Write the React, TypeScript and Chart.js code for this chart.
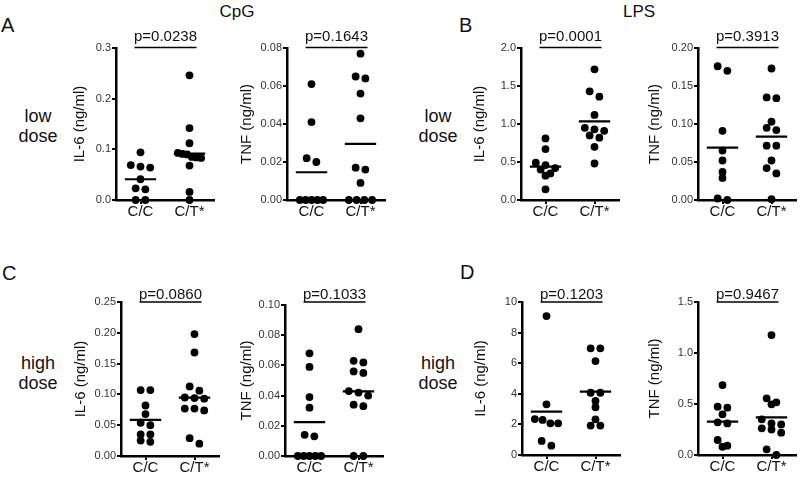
import React, { useEffect, useRef } from 'react';
import { Chart, registerables } from 'chart.js';

Chart.register(...registerables);

const FONT = '"Liberation Sans", Arial, Helvetica, sans-serif';
Chart.defaults.font.family = FONT;

// ---------------- data ----------------
const groups = ['C/C', 'C/T*'];

// A: CpG low dose
const cpgLowIL6CC = [0.094, 0.069, 0.066, 0.064, 0.041, 0.023, 0.021, 0, 0];
const cpgLowIL6CT = [0.246, 0.142, 0.112, 0.093, 0.091, 0.09, 0.085, 0.084, 0.083, 0.068, 0.016, 0];
const cpgLowIL6Mean = [0.041, 0.0915];
const cpgLowTNFCC = [0.061, 0.041, 0.022, 0.02, 0, 0, 0, 0, 0];
const cpgLowTNFCT = [0.077, 0.065, 0.064, 0.056, 0.043, 0.017, 0.016, 0.009, 0, 0, 0, 0];
const cpgLowTNFMean = [0.0146, 0.0295];

// B: LPS low dose
const lpsLowIL6CC = [0.81, 0.67, 0.49, 0.46, 0.42, 0.4, 0.35, 0.32, 0.14];
const lpsLowIL6CT = [1.72, 1.43, 1.36, 1.12, 0.95, 0.93, 0.91, 0.85, 0.82, 0.7, 0.48];
const lpsLowIL6Mean = [0.44, 1.035];
const lpsLowTNFCC = [0.176, 0.17, 0.091, 0.065, 0.052, 0.037, 0.029, 0.002, 0];
const lpsLowTNFCT = [0.173, 0.135, 0.134, 0.103, 0.095, 0.092, 0.0715, 0.0715, 0.052, 0.042, 0.035, 0.001];
const lpsLowTNFMean = [0.069, 0.0835];

// C: CpG high dose
const cpgHighIL6CC = [0.107, 0.107, 0.082, 0.068, 0.054, 0.05, 0.035, 0.035, 0.025, 0.023];
const cpgHighIL6CT = [0.198, 0.168, 0.113, 0.106, 0.095, 0.094, 0.093, 0.077, 0.077, 0.074, 0.029, 0.02];
const cpgHighIL6Mean = [0.0585, 0.0947];
const cpgHighTNFCC = [0.068, 0.059, 0.039, 0.032, 0.014, 0.013, 0, 0, 0, 0, 0];
const cpgHighTNFCT = [0.084, 0.063, 0.062, 0.056, 0.055, 0.043, 0.042, 0.04, 0.034, 0.033, 0, 0];
const cpgHighTNFMean = [0.0225, 0.0428];

// D: LPS high dose
const lpsHighIL6CC = [9.08, 3.31, 2.35, 2.29, 2.07, 2.07, 0.92, 0.61];
const lpsHighIL6CT = [6.97, 6.97, 6.14, 4.07, 4.07, 3.53, 3.12, 2.33, 1.92, 1.92];
const lpsHighIL6Mean = [2.83, 4.14];
const lpsHighTNFCC = [0.686, 0.474, 0.464, 0.399, 0.32, 0.31, 0.147, 0.091, 0.081];
const lpsHighTNFCT = [1.176, 0.556, 0.516, 0.497, 0.35, 0.31, 0.3, 0.262, 0.25, 0.219, 0.056, 0];
const lpsHighTNFMean = [0.327, 0.369];

const pValues = ['p=0.0238', 'p=0.1643', 'p=0.0001', 'p=0.3913', 'p=0.0860', 'p=0.1033', 'p=0.1203', 'p=0.9467'];
const yTitles = ['IL-6 (ng/ml)', 'TNF (ng/ml)', 'IL-6 (ng/ml)', 'TNF (ng/ml)', 'IL-6 (ng/ml)', 'TNF (ng/ml)', 'IL-6 (ng/ml)', 'TNF (ng/ml)'];
const yMax = [0.3, 0.08, 2.0, 0.2, 0.25, 0.1, 10, 1.5];
const yStep = [0.1, 0.02, 0.5, 0.05, 0.05, 0.02, 2, 0.5];
const yDecimals = [1, 2, 1, 2, 2, 2, 0, 1];

const ccData = [cpgLowIL6CC, cpgLowTNFCC, lpsLowIL6CC, lpsLowTNFCC, cpgHighIL6CC, cpgHighTNFCC, lpsHighIL6CC, lpsHighTNFCC];
const ctData = [cpgLowIL6CT, cpgLowTNFCT, lpsLowIL6CT, lpsLowTNFCT, cpgHighIL6CT, cpgHighTNFCT, lpsHighIL6CT, lpsHighTNFCT];
const meanData = [cpgLowIL6Mean, cpgLowTNFMean, lpsLowIL6Mean, lpsLowTNFMean, cpgHighIL6Mean, cpgHighTNFMean, lpsHighIL6Mean, lpsHighTNFMean];

// ---------------- layout ----------------
const W_Y = 75;
const PT = 34;
const HX = 26;
const PLOT_W = 101;
const PR = 1;

const layout = [
  { axisX: 116, top: 48, bottom: 200, titleDist: 36, row: 0 },
  { axisX: 287, top: 48, bottom: 200, titleDist: 40, row: 0 },
  { axisX: 521, top: 48, bottom: 200, titleDist: 41, row: 0 },
  { axisX: 698, top: 48, bottom: 200, titleDist: 43, row: 0 },
  { axisX: 121, top: 302, bottom: 456, titleDist: 40, row: 1 },
  { axisX: 285, top: 305, bottom: 456, titleDist: 38, row: 1 },
  { axisX: 522, top: 302, bottom: 455, titleDist: 41, row: 1 },
  { axisX: 698, top: 302, bottom: 455, titleDist: 43, row: 1 },
];
const rowText = [
  { bracketY: 47.5, textY: 41 },
  { bracketY: 302, textY: 298.5 },
];

// GraphPad-like row layout of dots: returns horizontal pixel offsets
function swarm(values: number[], pxPerUnitY: number): number[] {
  const order = values.map((_, i) => i).sort((a, b) => values[b] - values[a]);
  const out: number[] = new Array(values.length).fill(0);
  let i = 0;
  while (i < order.length) {
    const start = values[order[i]];
    const grp = [order[i]];
    let j = i + 1;
    while (j < order.length && (start - values[order[j]]) * pxPerUnitY < 6) {
      grp.push(order[j]);
      j++;
    }
    const n = grp.length;
    const spacing = n > 1 ? Math.min(10, 24 / (n - 1)) : 0;
    grp.forEach((g, k) => {
      out[g] = (k - (n - 1) / 2) * spacing;
    });
    i = j;
  }
  return out;
}

function Panel({ i }: { i: number }) {
  const ref = useRef<HTMLCanvasElement>(null);
  const L = layout[i];
  const left = L.axisX - W_Y;
  const top = L.top - PT;
  const w = W_Y + PLOT_W + PR;
  const h = PT + (L.bottom - L.top) + HX;

  useEffect(() => {
    if (!ref.current) return;
    const pxX = PLOT_W / 2;
    const pxY = (L.bottom - L.top) / yMax[i];
    const series = [ccData[i], ctData[i]];
    const datasets: any[] = [];
    series.forEach((vals, g) => {
      const offs = swarm(vals, pxY);
      datasets.push({
        data: vals.map((v, k) => ({ x: g + offs[k] / pxX, y: v })),
        pointRadius: 3.9,
        pointBackgroundColor: '#000',
        pointBorderWidth: 0,
        showLine: false,
        clip: false,
      });
    });
    meanData[i].forEach((m, g) => {
      datasets.push({
        data: [
          { x: g - 0.32, y: m },
          { x: g + 0.32, y: m },
        ],
        showLine: true,
        borderColor: '#000',
        borderWidth: 2.2,
        pointRadius: 0,
        clip: false,
      });
    });

    const rt = rowText[L.row];
    const bracketPlugin = {
      id: 'bracket',
      afterDraw(chart: any) {
        const ctx = chart.ctx;
        const xs = chart.scales.x;
        const x0 = xs.getPixelForValue(0) - 6;
        const x1 = xs.getPixelForValue(1) + 7;
        const by = rt.bracketY - top;
        ctx.save();
        ctx.strokeStyle = '#000';
        ctx.lineWidth = 1.5;
        ctx.beginPath();
        ctx.moveTo(x0, by);
        ctx.lineTo(x1, by);
        ctx.stroke();
        ctx.fillStyle = '#111';
        ctx.font = `15px ${FONT}`;
        ctx.textAlign = 'center';
        ctx.textBaseline = 'alphabetic';
        ctx.fillText(pValues[i], (x0 + x1) / 2, rt.textY - top);
        ctx.restore();
      },
    };

    const gridCfg = {
      display: true,
      drawOnChartArea: false,
      drawTicks: true,
      tickLength: 4,
      lineWidth: 2,
      tickWidth: 2,
      tickColor: '#000',
      color: '#000',
    };

    const chart = new Chart(ref.current, {
      type: 'scatter',
      data: { datasets },
      plugins: [bracketPlugin],
      options: {
        animation: false,
        responsive: false,
        devicePixelRatio: 1,
        events: [],
        layout: { padding: { top: PT, right: PR, left: 0, bottom: 0 } },
        plugins: { legend: { display: false }, tooltip: { enabled: false } },
        scales: {
          x: {
            type: 'linear',
            min: -0.5,
            max: 1.5,
            afterBuildTicks: (s: any) => {
              s.ticks = groups.map((_, k) => ({ value: k }));
            },
            afterFit: (s: any) => {
              s.height = HX;
            },
            ticks: {
              callback: (_v: any, idx: number) => groups[idx],
              font: { size: 15, lineHeight: 1 },
              color: '#111',
              padding: 0,
              autoSkip: false,
              maxRotation: 0,
              minRotation: 0,
            },
            grid: gridCfg,
            border: { display: true, color: '#000', width: 2.5 },
          },
          y: {
            type: 'linear',
            min: 0,
            max: yMax[i],
            afterFit: (s: any) => {
              s.width = W_Y;
            },
            ticks: {
              stepSize: yStep[i],
              callback: (v: any) => Number(v).toFixed(yDecimals[i]),
              font: { size: 11 },
              color: '#333',
              padding: 1,
            },
            grid: gridCfg,
            border: { display: true, color: '#000', width: 2.5 },
            title: {
              display: true,
              text: yTitles[i],
              font: { size: 15, lineHeight: 1.2 },
              color: '#111',
              padding: { top: W_Y - L.titleDist - 9, bottom: 0 },
            },
          },
        },
      } as any,
    });
    return () => chart.destroy();
  }, []);

  return (
    <canvas
      ref={ref}
      width={w}
      height={h}
      style={{ position: 'absolute', left, top, width: w, height: h }}
    />
  );
}

function Txt({ x, baseline, size, text, align = 'center' }: { x: number; baseline: number; size: number; text: string; align?: string }) {
  const topPx = baseline - 0.8465 * size;
  const style: any = {
    position: 'absolute',
    top: topPx,
    fontSize: size,
    lineHeight: `${size}px`,
    fontFamily: FONT,
    color: '#111',
    whiteSpace: 'nowrap',
  };
  if (align === 'center') {
    style.left = x - 100;
    style.width = 200;
    style.textAlign = 'center';
  } else {
    style.left = x;
  }
  return <div style={style}>{text}</div>;
}

export default function App() {
  return (
    <div
      style={{
        position: 'fixed',
        left: 0,
        top: 0,
        width: 800,
        height: 477,
        background: '#fff',
        overflow: 'hidden',
      }}
    >
      <Txt x={1} baseline={32} size={20} text="A" align="left" />
      <Txt x={459} baseline={32} size={20} text="B" align="left" />
      <Txt x={2} baseline={280} size={20} text="C" align="left" />
      <Txt x={460} baseline={279} size={20} text="D" align="left" />
      <Txt x={237} baseline={17} size={17} text="CpG" />
      <Txt x={639} baseline={17} size={17} text="LPS" />
      <Txt x={38} baseline={122} size={18} text="low" />
      <Txt x={38} baseline={142} size={18} text="dose" />
      <Txt x={438} baseline={122} size={18} text="low" />
      <Txt x={438} baseline={142} size={18} text="dose" />
      <Txt x={38} baseline={369} size={18} text="high" />
      <Txt x={38} baseline={389} size={18} text="dose" />
      <Txt x={438} baseline={369} size={18} text="high" />
      <Txt x={438} baseline={389} size={18} text="dose" />
      {layout.map((_, i) => (
        <Panel key={i} i={i} />
      ))}
    </div>
  );
}
